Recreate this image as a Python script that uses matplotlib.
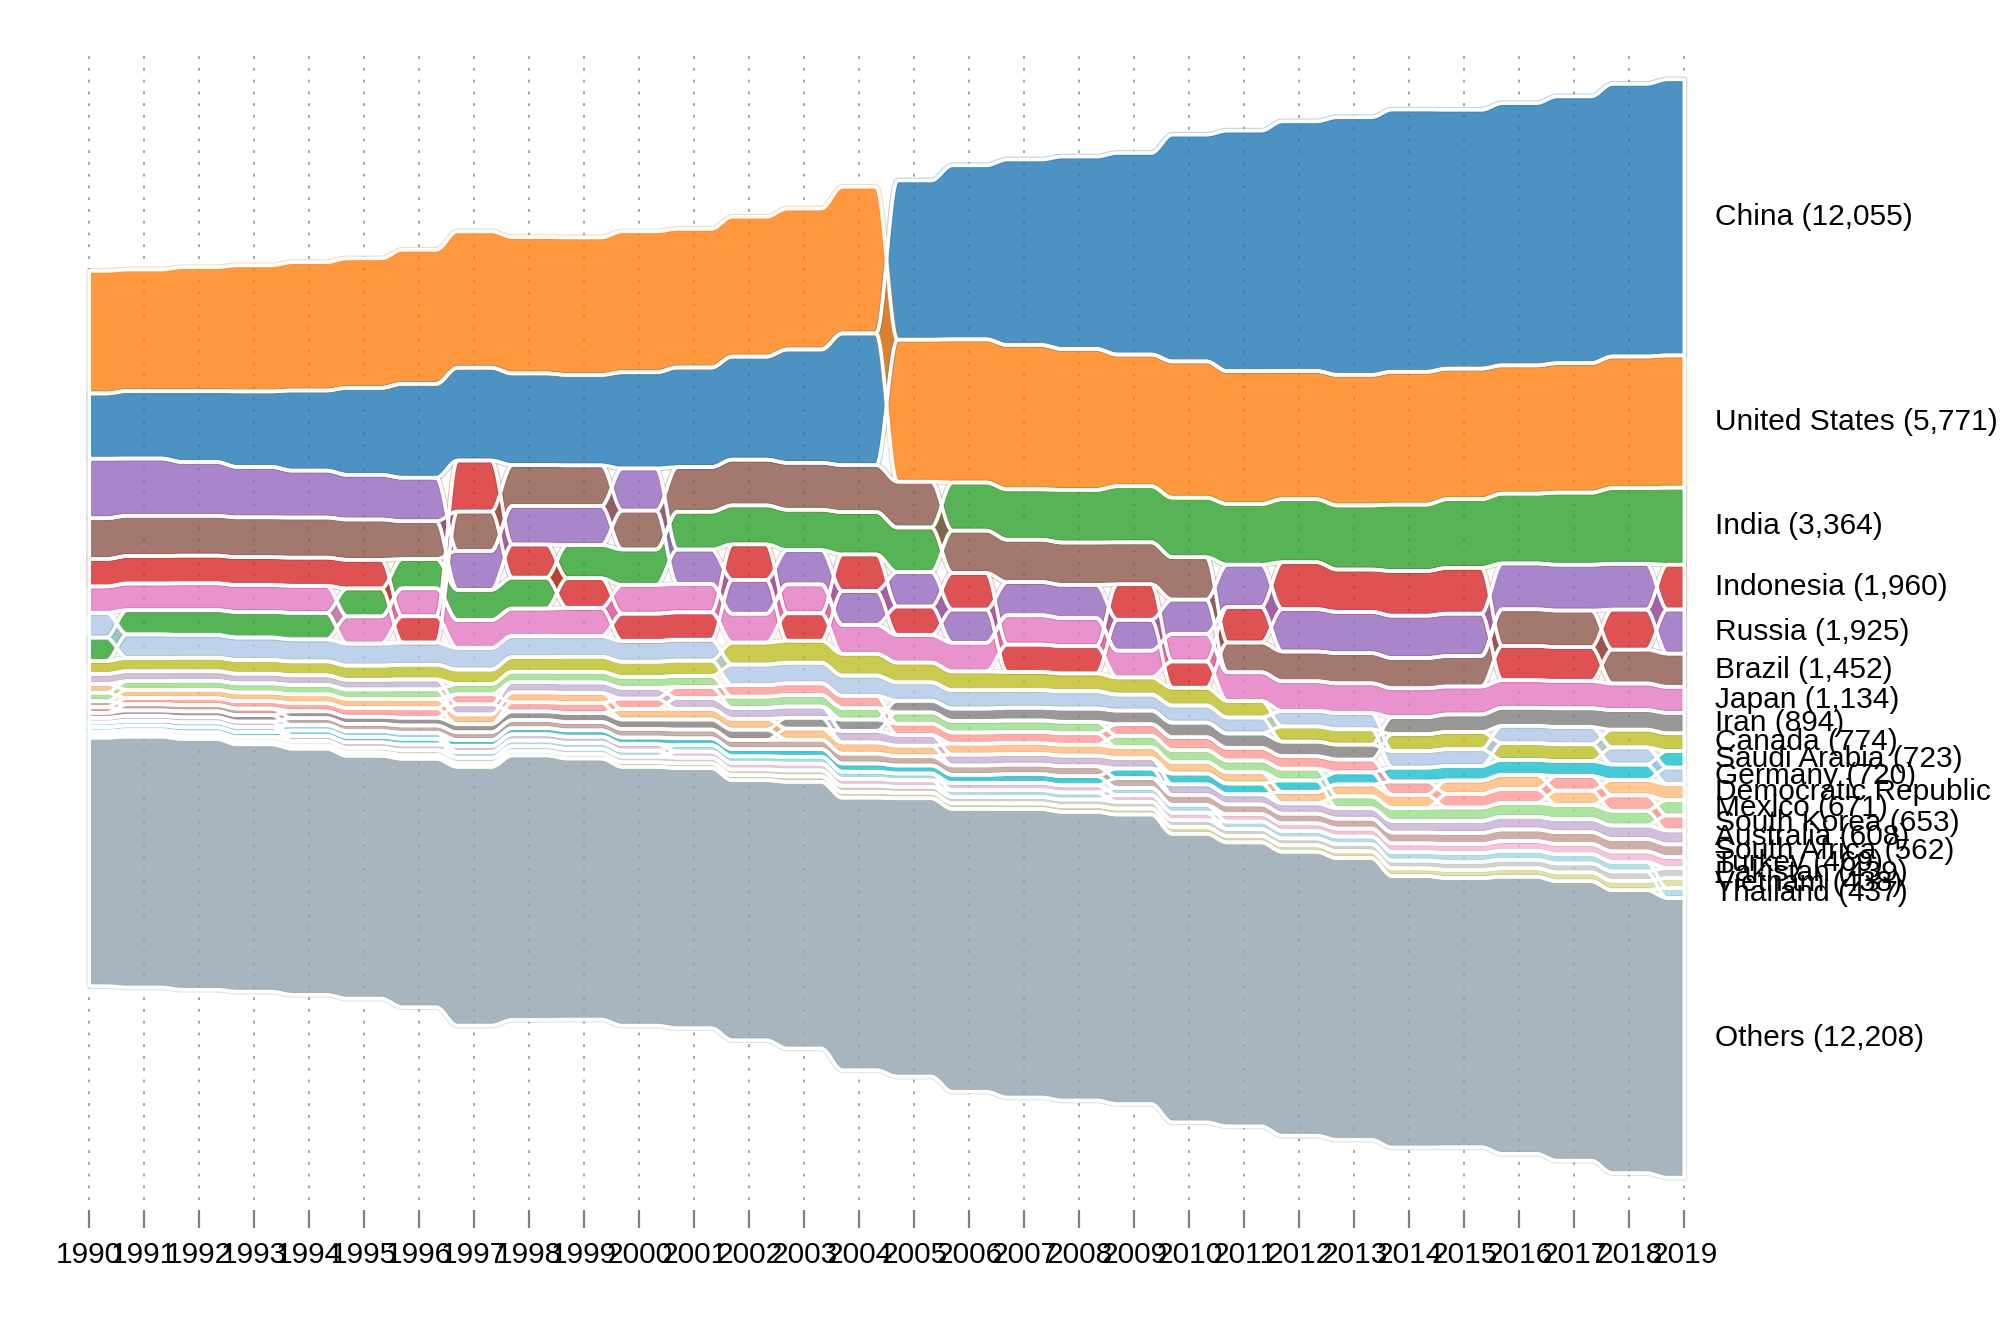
import numpy as np
import matplotlib.pyplot as plt

# Greenhouse gas emissions (Mt CO2e), 1990-2019, ranked each year
years = np.arange(1990, 2020)

names = ["China", "United States", "India", "Indonesia", "Russia", "Brazil",
         "Japan", "Iran", "Canada", "Saudi Arabia", "Germany",
         "Democratic Republic of the Congo", "Mexico", "South Korea",
         "Australia", "South Africa", "Turkey", "Pakistan", "Vietnam",
         "Thailand"]

china = [2850, 2950, 3100, 3300, 3500, 3800, 4100, 4050, 4000, 3950,
         4200, 4350, 4500, 4950, 5750, 6950, 7600, 8100, 8400, 8800,
         9900, 10500, 10900, 11250, 11450, 11300, 11450, 11650, 11900, 12055]
united_states = [5350, 5300, 5400, 5500, 5600, 5650, 5850, 5950, 5950, 6000,
                 6150, 6050, 6100, 6150, 6400, 6200, 6250, 6300, 6150, 5750,
                 5950, 5800, 5600, 5700, 5800, 5700, 5600, 5650, 5750, 5771]
india = [1020, 1060, 1090, 1120, 1160, 1220, 1280, 1320, 1350, 1450,
         1550, 1650, 1700, 1760, 1850, 1950, 2100, 2200, 2300, 2450,
         2600, 2650, 2750, 2800, 2900, 3000, 3050, 3150, 3300, 3364]
indonesia = [1200, 1200, 1210, 1220, 1230, 1250, 1150, 2230, 1450, 1300,
             1200, 1200, 1550, 1200, 1600, 1250, 1600, 1200, 1200, 1550,
             1150, 1550, 2050, 1850, 1950, 2000, 1500, 1480, 1750, 1960]
russia = [2600, 2500, 2350, 2200, 2050, 1950, 1900, 1700, 1680, 1700,
          1840, 1500, 1480, 1500, 1480, 1500, 1450, 1450, 1450, 1350,
          1500, 1850, 1850, 1800, 1850, 1850, 2000, 2000, 2000, 1925]
brazil = [1780, 1760, 1740, 1740, 1750, 1760, 1650, 1720, 1790, 1780,
          1700, 1950, 2000, 2050, 2050, 2000, 1850, 1850, 1850, 1830,
          1850, 1300, 1300, 1320, 1320, 1330, 1600, 1600, 1480, 1452]
japan = [1150, 1160, 1170, 1170, 1180, 1190, 1220, 1220, 1200, 1230,
         1250, 1240, 1260, 1260, 1260, 1200, 1250, 1280, 1220, 1170,
         1200, 1250, 1290, 1300, 1260, 1220, 1200, 1190, 1160, 1134]
iran = [220, 240, 260, 280, 300, 320, 340, 360, 380, 400,
        420, 440, 460, 480, 500, 515, 545, 560, 580, 600,
        640, 635, 640, 655, 745, 765, 790, 820, 855, 894]
canada = [570, 580, 590, 600, 610, 620, 640, 640, 640, 660,
          670, 670, 960, 960, 950, 865, 820, 790, 775, 750,
          775, 725, 665, 670, 740, 755, 735, 735, 775, 774]
saudi_arabia = [190, 200, 210, 220, 230, 240, 250, 260, 270, 280,
                290, 300, 320, 340, 360, 350, 365, 385, 405, 425,
                475, 475, 500, 530, 605, 635, 650, 650, 680, 723]
germany = [1080, 1030, 990, 980, 960, 960, 970, 940, 920, 900,
           900, 910, 900, 900, 890, 800, 800, 765, 755, 695,
           745, 695, 680, 705, 720, 730, 755, 750, 745, 720]
dr_congo = [380, 360, 370, 380, 390, 400, 410, 420, 430, 440,
            450, 460, 470, 480, 490, 460, 475, 470, 475, 480,
            505, 495, 500, 520, 575, 590, 615, 630, 670, 700]
mexico = [370, 380, 390, 400, 410, 410, 420, 440, 450, 460,
          470, 480, 490, 500, 510, 490, 500, 500, 500, 495,
          520, 510, 515, 520, 565, 580, 605, 620, 645, 671]
south_korea = [250, 270, 290, 320, 350, 380, 410, 440, 400, 430,
               460, 480, 500, 510, 520, 490, 490, 490, 500, 505,
               560, 545, 540, 555, 585, 590, 615, 640, 670, 653]
australia = [440, 430, 420, 420, 420, 420, 430, 440, 450, 460,
             470, 480, 480, 490, 500, 470, 475, 465, 465, 450,
             460, 440, 450, 455, 505, 530, 550, 565, 590, 608]
south_africa = [260, 270, 280, 290, 300, 310, 320, 340, 350, 360,
                370, 380, 390, 410, 430, 405, 410, 420, 430, 420,
                440, 425, 425, 435, 475, 490, 510, 520, 545, 562]
turkey = [200, 210, 220, 230, 230, 240, 250, 260, 270, 270,
          280, 270, 280, 290, 300, 285, 300, 310, 310, 305,
          325, 325, 330, 345, 380, 390, 420, 440, 450, 469]
pakistan = [160, 170, 175, 180, 190, 200, 210, 215, 220, 230,
            240, 245, 250, 260, 270, 260, 275, 275, 280, 285,
            305, 300, 300, 310, 340, 355, 370, 390, 415, 439]
vietnam = [110, 115, 120, 130, 140, 150, 160, 170, 180, 190,
           200, 210, 220, 240, 250, 240, 245, 250, 255, 260,
           290, 280, 280, 295, 335, 355, 370, 385, 405, 438]
thailand = [200, 210, 220, 230, 240, 250, 260, 260, 250, 260,
            270, 280, 290, 300, 310, 295, 300, 305, 310, 315,
            335, 325, 325, 335, 370, 380, 395, 405, 420, 437]
others = [10850, 10950, 10950, 10800, 10750, 10600, 10850, 11300, 11550, 11400,
          11300, 11350, 11350, 11640, 11900, 12150, 12350, 12590, 12600, 12640,
          12600, 12400, 12400, 12300, 11850, 11750, 12100, 12200, 12350, 12208]

series = [china, united_states, india, indonesia, russia, brazil, japan, iran,
          canada, saudi_arabia, germany, dr_congo, mexico, south_korea,
          australia, south_africa, turkey, pakistan, vietnam, thailand]
colors = ["#1f77b4", "#ff7f0e", "#2ca02c", "#d62728", "#9467bd", "#8c564b",
          "#e377c2", "#7f7f7f", "#bcbd22", "#17becf", "#aec7e8", "#ffbb78",
          "#98df8a", "#ff9896", "#c5b0d5", "#c49c94", "#f7b6d2", "#c7c7c7",
          "#dbdb8d", "#9edae5"]
others_color = "#94a3ae"

values = np.array(series + [others], dtype=float)
n, m = values.shape

# each year: largest on top, "Others" always at the bottom, stack centred on 0
tops = np.zeros_like(values)
bots = np.zeros_like(values)
for j in range(m):
    order = sorted(range(n - 1), key=lambda i: -values[i, j]) + [n - 1]
    y = values[:, j].sum() / 2
    for i in order:
        tops[i, j] = y
        y -= values[i, j]
        bots[i, j] = y

# flat around each year, S-shaped switch half way between years
FLAT = 0.31
def curve(arr, steps=40):
    xs, ys = [], []
    for j in range(m - 1):
        t = np.linspace(0, 1, steps, endpoint=False)
        u = np.clip((t - FLAT) / (1 - 2 * FLAT), 0, 1)
        s = u * u * (3 - 2 * u)
        xs.append(years[j] + t)
        ys.append(arr[j] + (arr[j + 1] - arr[j]) * s)
    xs.append([years[-1]])
    ys.append([arr[-1]])
    return np.concatenate(xs), np.concatenate(ys)

W, H = 2000, 1333
fig = plt.figure(figsize=(W / 100, H / 100), dpi=100)
ax_bottom = 1210                       # px from top where the axis sits
ax = fig.add_axes([0, (H - ax_bottom) / H, 1, ax_bottom / H])

px_per_year = 55.0
x0_px = 89.3
ax.set_xlim(1990 - x0_px / px_per_year, 1990 + (W - x0_px) / px_per_year)
scale = 0.0229                         # px per Mt
centre = ax_bottom - 628.5
ax.set_ylim(-centre / scale, (ax_bottom - centre) / scale)

# dotted year guides
for yr in years:
    ax.axvline(yr, ymin=(ax_bottom - 1200) / ax_bottom,
               ymax=(ax_bottom - 48) / ax_bottom,
               color="#8a8a8a", lw=1.1, ls=(0, (1.8, 5.9)), zorder=0)

for i in range(n):
    c = colors[i] if i < n - 1 else others_color
    x, yt = curve(tops[i])
    _, yb = curve(bots[i])
    ax.fill_between(x, yb, yt, facecolor=c, alpha=0.8, lw=0, zorder=2)
    ax.fill_between(x, yb, yt, facecolor="none", edgecolor=c, alpha=0.3,
                    lw=4.2, zorder=3)
    ax.fill_between(x, yb, yt, facecolor="none", edgecolor="white",
                    lw=2.6, zorder=4)

labels = [f"{nm} ({int(round(v[-1])):,})" for nm, v in zip(names, series)]
labels.append(f"Others ({others[-1]:,})")
for i in range(n):
    yc = (tops[i, -1] + bots[i, -1]) / 2
    ax.text(2019.55, yc, labels[i], ha="left", va="center", fontsize=21.5,
            family=["Liberation Sans", "DejaVu Sans"], color="black",
            clip_on=False, zorder=5)

for sp in ax.spines.values():
    sp.set_visible(False)
ax.set_yticks([])
ax.set_xticks(years)
ax.set_xticklabels([str(y) for y in years],
                   family=["Liberation Sans Narrow", "Liberation Sans"],
                   fontsize=21.5)
ax.tick_params(axis="x", length=13, width=1.6, color="#7f7f7f", pad=9)

fig.savefig("out.png", dpi=100)
